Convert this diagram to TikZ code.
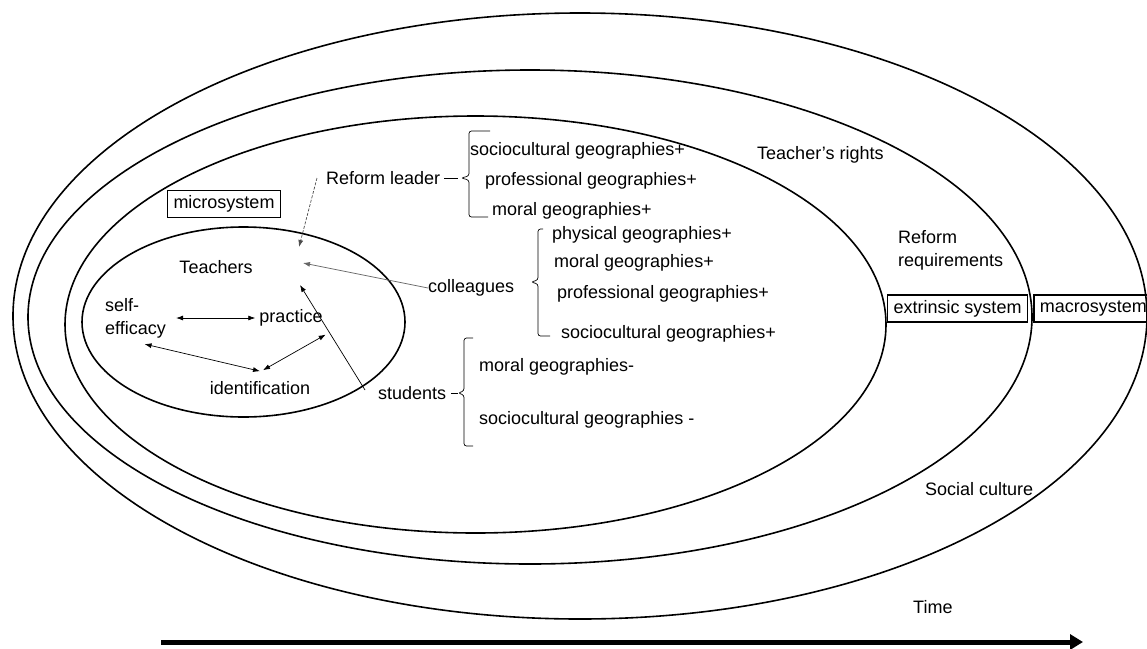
\documentclass[tikz,border=0pt]{standalone}
\usepackage{fontspec}
\setmainfont{Liberation Sans}
\usetikzlibrary{calc, positioning, arrows.meta}

\begin{document}
\begin{tikzpicture}[
        x=1pt, y=-1pt, % pixel-like units, y going down
        font=\fontsize{18}{23}\selectfont,
        >={Latex[length=7pt,width=5pt]},
        ring/.style={line width=1.6pt},
        sysbox/.style={rectangle, draw, line width=1.4pt, inner xsep=6pt, inner ysep=3pt, minimum height=27pt},
        lbl/.style={anchor=west, inner sep=0pt},
        bracebar/.style={line width=0.7pt, rounded corners=2.5pt},
        infl/.style={->, line width=0.7pt}
    ]
    \useasboundingbox (0,0) rectangle (1147,648);

    % nested systems
    \draw[ring] (580,316) ellipse [x radius=567pt, y radius=303pt];
    \draw[ring] (530,317) ellipse [x radius=502pt, y radius=247pt];
    \draw[ring] (475.5,324.5) ellipse [x radius=410.5pt, y radius=208.5pt];
    \draw[ring] (243.5,322) ellipse [x radius=161.5pt, y radius=95pt];

    \node[sysbox] (micro) at (224,204) {microsystem};
    \node[sysbox] (extr) at (957.5,308.5) {extrinsic system};
    \node[sysbox, right=5pt of extr] (macro) {macrosystem};
    \node[lbl] (rights) at (757,155) {Teacher’s rights};
    \node[lbl, align=left] (reformreq) at (898,250) {Reform\\requirements};
    \node[lbl] (culture) at (925,489) {Social culture};
    \node[lbl] (time) at (913,607) {Time};

    % inside the teacher
    \node (teachers) at (216,267) {Teachers};
    \node[lbl, align=left] (selfeff) at (105,318) {self-\\efficacy};
    \node[inner sep=2pt] (practice) at (291,318) {practice};
    \node[inner sep=2pt] (ident) at (260,388) {identification};
    \draw[<->, line width=0.7pt, shorten <=10pt, shorten >=2pt] (selfeff.east) -- (practice.west);
    \draw[<->, line width=0.7pt] ($(selfeff.south)+(9,6)$) -- ($(ident.north)+(0,-8)$);
    \draw[<->, line width=0.7pt] ($(practice.south east)+(1,6)$) -- ($(ident.north)+(3,-9)$);

    % people around the teacher
    \node[lbl] (rleader) at (326,178) {Reform leader};
    \node[lbl] (colleagues) at (428,288) {colleagues};
    \node[lbl] (students) at (378,393) {students};
    \coordinate (fromleader) at (299,247);
    \coordinate (fromcoll) at (303,263);
    \coordinate (fromstud) at (300,285);
    \draw[infl, black!70, dash pattern=on 3pt off 1.5pt] ($(rleader.west)+(-9,0)$) -- (fromleader);
    \draw[infl, black!60] (colleagues.west) -- (fromcoll);
    \draw[infl] ($(students.west)+(-13,-3)$) -- (fromstud);

    % reform leader group
    \coordinate (tip1) at (461,178);
    \draw[bracebar] (490,131) -- (469,131) -- (469,176) -- (tip1) -- (469,180) -- (469,217) -- (488,217);
    \draw[line width=0.7pt, shorten <=4pt, shorten >=3pt] (rleader.east) -- (tip1);
    \node[lbl] (soc1) at (470,151) {sociocultural geographies+};
    \node[lbl] (prof1) at (485,181) {professional geographies+};
    \node[lbl] (moral1) at (492,211) {moral geographies+};

    % colleagues group
    \coordinate (tip2) at (531,282);
    \draw[bracebar] (543,229) -- (538,229) -- (538,280) -- (tip2) -- (538,284) -- (538,336) -- (550,336);
    \node[lbl] (phys2) at (552,235) {physical geographies+};
    \node[lbl] (moral2) at (554,263) {moral geographies+};
    \node[lbl] (prof2) at (557,294) {professional geographies+};
    \node[lbl] (soc2) at (561,334) {sociocultural geographies+};

    % students group
    \coordinate (tip3) at (458,393);
    \draw[bracebar] (473,338) -- (464,338) -- (464,391) -- (tip3) -- (464,395) -- (464,446) -- (473,446);
    \draw[line width=0.7pt, shorten <=5pt] (students.east) -- (tip3);
    \node[lbl] (moral3) at (479,367) {moral geographies-};
    \node[lbl] (soc3) at (479,420) {sociocultural geographies -};

    % time
    \coordinate (tstart) at (161,642);
    \coordinate (tend) at (1083,642);
    \draw[line width=5pt, -{Triangle[length=13pt,width=15pt]}] (tstart) -- (tend);
\end{tikzpicture}
\end{document}
